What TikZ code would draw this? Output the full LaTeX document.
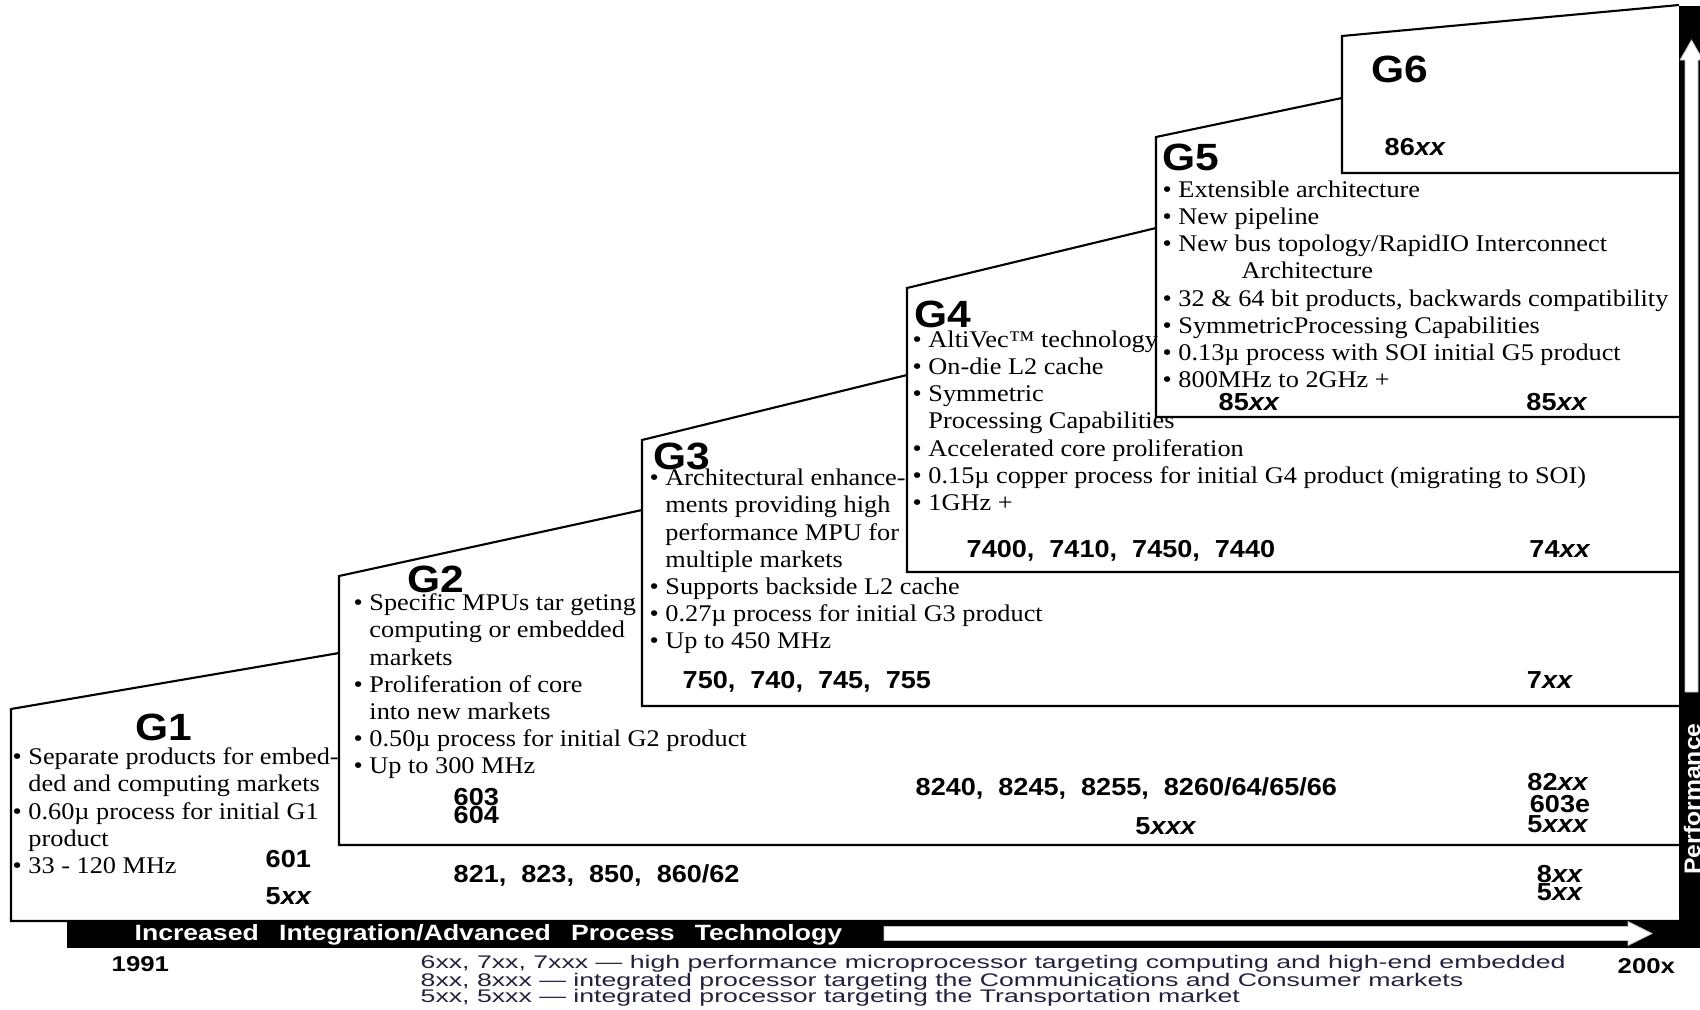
\documentclass[tikz,border=0pt]{standalone}
\usepackage{fontspec}
\setmainfont{Liberation Serif}
\newfontfamily\bodyfont{Liberation Serif}[FakeStretch=1.1]
\newfontfamily\genfont{Liberation Sans}[FakeStretch=1.2]
\newfontfamily\glabfont{Liberation Sans}[FakeStretch=1.12]
\newfontfamily\numfont{Liberation Sans}[FakeStretch=1.1]
\newfontfamily\legfont{Liberation Sans}[FakeStretch=1.46]
\definecolor{legblue}{RGB}{34,34,62}
\newcommand{\bitem}{\textbullet\ }
\newcommand{\bcont}{\phantom{\textbullet\ }}

\begin{document}
\begin{tikzpicture}[
  stepline/.style={line width=0.6pt},
  genlabel/.style={font=\glabfont\bfseries\fontsize{10.8}{12}\selectfont,anchor=base west,inner sep=0pt},
  bullets/.style={font=\bodyfont\fontsize{6.8}{7.74}\selectfont,align=left,anchor=north west,inner sep=0pt},
  model/.style={font=\numfont\bfseries\fontsize{7}{8}\selectfont,anchor=base west,inner sep=0pt},
  modelc/.style={model,anchor=base},
  legline/.style={font=\legfont\fontsize{5.2}{6}\selectfont,text=legblue,anchor=base west,inner sep=0pt}]
\useasboundingbox (0,0) rectangle (17.00,10.09);
\clip (0,0) rectangle (17.00,10.09);
\fill[white] (0,0) rectangle (17.00,10.09);
% ---- the six steps, each one a left edge, a bottom line and a sloping top
\draw[stepline] (16.79,0.88) -- (0.11,0.88) -- (0.11,3.00) -- (3.39,3.56);
\draw[stepline] (16.79,1.64) -- (3.39,1.64) -- (3.39,4.33) -- (6.42,4.99);
\draw[stepline] (16.79,3.03) -- (6.42,3.03) -- (6.42,5.69) -- (9.07,6.34);
\draw[stepline] (16.79,4.37) -- (9.07,4.37) -- (9.07,7.21) -- (11.56,7.81);
\draw[stepline] (16.79,5.92) -- (11.56,5.92) -- (11.56,8.72) -- (13.42,9.11);
\draw[stepline] (16.79,8.36) -- (13.42,8.36) -- (13.42,9.73) -- (16.79,10.04);
% ---- black axes with white arrows
\fill[black] (16.79,0.61) rectangle (17.00,10.03);
\fill[black] (0.67,0.61) rectangle (17.00,0.89);
\fill[white,draw=black!25,line width=0.2pt] (8.84,0.685) -- (16.28,0.685) -- (16.28,0.635) -- (16.52,0.755)
  -- (16.28,0.875) -- (16.28,0.825) -- (8.84,0.825) -- cycle;
\fill[white,draw=black!25,line width=0.2pt] (16.85,3.17) -- (16.85,9.49) -- (16.80,9.49) -- (16.915,9.69)
  -- (17.03,9.49) -- (16.98,9.49) -- (16.98,3.17) -- cycle;
\node[font=\numfont\bfseries\fontsize{6.4}{8}\selectfont,text=white,rotate=90,inner sep=0pt] (perf) at (16.92,2.10) {Performance};
\node[font=\genfont\bfseries\fontsize{6.3}{8}\selectfont,text=white,anchor=base west,inner sep=0pt] (bartxt) at (1.34,0.69)
  {Increased\hspace{5.8pt}Integration/Advanced\hspace{5.8pt}Process\hspace{5.8pt}Technology};
% ---- G1
\node[genlabel] (g1) at (1.35,2.69) {G1};
\node[bullets] (g1txt) at (0.12,2.641) {\strut\bitem Separate products for embed-\\
  \bcont ded and computing markets\\
  \bitem 0.60µ process for initial G1\\
  \bcont product\\
  \bitem 33 - 120 MHz};
\node[model] (m601) at (2.65,1.42) {601};
\node[model] (m5xxa) at (2.65,1.05) {5\textit{xx}};
% ---- G2
\node[genlabel] (g2) at (4.07,4.17) {G2};
\node[bullets] (g2txt) at (3.53,4.181) {\strut\bitem Specific MPUs tar geting\\
  \bcont computing or embedded\\
  \bcont markets\\
  \bitem Proliferation of core\\
  \bcont into new markets\\
  \bitem 0.50µ process for initial G2 product\\
  \bitem Up to 300 MHz};
\node[model] (m603) at (4.53,2.04) {603};
\node[model] (m604) at (4.53,1.86) {604};
\node[model] (m821) at (4.53,1.27) {821,\ \ 823,\ \ 850,\ \ 860/62};
\node[model] (m8240) at (9.15,2.14) {8240,\ \ 8245,\ \ 8255,\ \ 8260/64/65/66};
\node[modelc] (m5xxxa) at (11.66,1.75) {5\textit{xxx}};
% ---- G3
\node[genlabel] (g3) at (6.53,5.40) {G3};
\node[bullets] (g3txt) at (6.49,5.431) {\strut\bitem Architectural enhance-\\
  \bcont ments providing high\\
  \bcont performance MPU for\\
  \bcont multiple markets\\
  \bitem Supports backside L2 cache\\
  \bitem 0.27µ process for initial G3 product\\
  \bitem Up to 450 MHz};
\node[model] (m750) at (6.82,3.21) {750,\ \ 740,\ \ 745,\ \ 755};
% ---- G4
\node[genlabel] (g4) at (9.14,6.82) {G4};
\node[bullets] (g4txt) at (9.12,6.814) {\strut\bitem AltiVec™ technology\\
  \bitem On-die L2 cache\\
  \bitem Symmetric\\
  \bcont Processing Capabilities\\
  \bitem Accelerated core proliferation\\
  \bitem 0.15µ copper process for initial G4 product (migrating to SOI)\\
  \bitem 1GHz +};
\node[model] (m7400) at (9.66,4.52) {7400,\ \ 7410,\ \ 7450,\ \ 7440};
% ---- G5
\node[genlabel] (g5) at (11.62,8.39) {G5};
\node[bullets] (g5txt) at (11.62,8.314) {\strut\bitem Extensible architecture\\
  \bitem New pipeline\\
  \bitem New bus topology/RapidIO Interconnect\\
  \hspace*{0.79cm}Architecture\\
  \bitem 32 \& 64 bit products, backwards compatibility\\
  \bitem SymmetricProcessing Capabilities\\
  \bitem 0.13µ process with SOI initial G5 product\\
  \bitem 800MHz to 2GHz +};
\node[model] (m85a) at (12.18,5.99) {85\textit{xx}};
% ---- G6
\node[genlabel] (g6) at (13.71,9.27) {G6};
\node[model] (m86) at (13.84,8.54) {86\textit{xx}};
% ---- right-hand column of families
\node[modelc] (m85b) at (15.57,5.99) {85\textit{xx}};
\node[modelc] (m74xx) at (15.60,4.52) {74\textit{xx}};
\node[modelc] (m7xx) at (15.50,3.21) {7\textit{xx}};
\node[modelc] (m82xx) at (15.58,2.19) {82\textit{xx}};
\node[modelc] (m603e) at (15.60,1.97) {603e};
\node[modelc] (m5xxxb) at (15.58,1.77) {5\textit{xxx}};
\node[modelc] (m8xx) at (15.60,1.27) {8\textit{xx}};
\node[modelc] (m5xxb) at (15.60,1.09) {5\textit{xx}};
% ---- years and key
\node[font=\genfont\bfseries\fontsize{6.1}{8}\selectfont,anchor=base west,inner sep=0pt] (y1991) at (1.11,0.373) {1991};
\node[font=\genfont\bfseries\fontsize{6.1}{8}\selectfont,anchor=base west,inner sep=0pt] (y200x) at (16.17,0.357) {200x};
\node[legline] (leg1) at (4.20,0.41) {6xx, 7xx, 7xxx — high performance microprocessor targeting computing and high-end embedded};
\node[legline] (leg2) at (4.20,0.23) {8xx, 8xxx — integrated processor targeting the Communications and Consumer markets};
\node[legline] (leg3) at (4.20,0.063) {5xx, 5xxx — integrated processor targeting the Transportation market};
\end{tikzpicture}
\end{document}
